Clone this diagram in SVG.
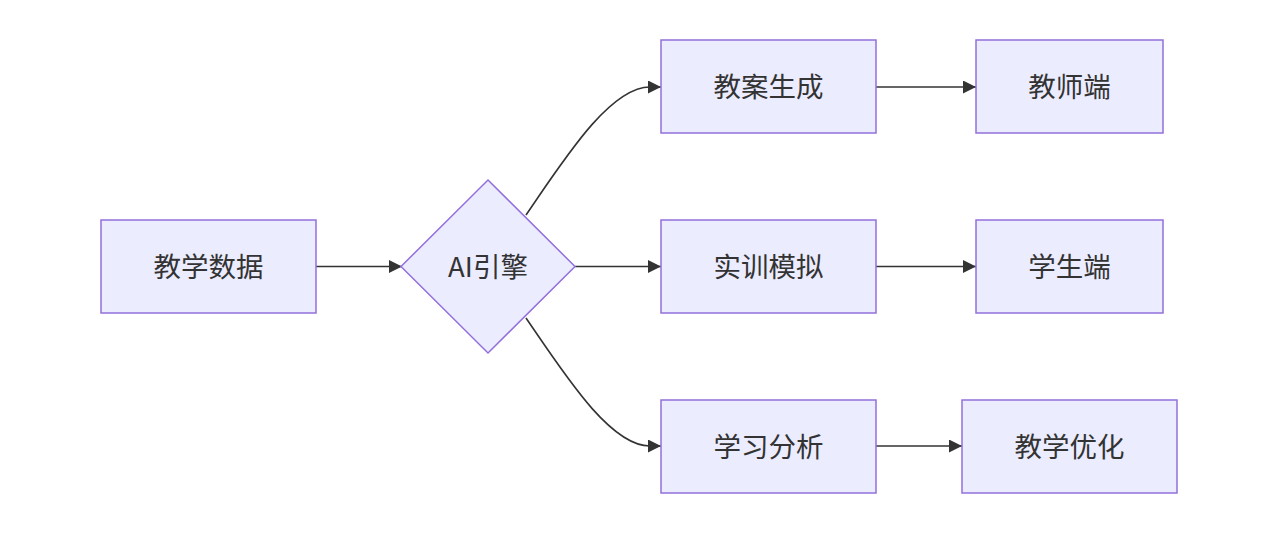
<svg xmlns="http://www.w3.org/2000/svg" width="1280" height="545" viewBox="0 0 1280 545">
<style>
.n{fill:#ECECFF;stroke:#9370DB;stroke-width:1.5}
.t{font-family:"Noto Sans CJK SC","Noto Sans",sans-serif;font-size:27.5px;fill:#333;text-anchor:middle;dominant-baseline:central}
.e{fill:none;stroke:#333;stroke-width:1.6}
</style>
<defs>
<marker id="ar" viewBox="0 0 10 10" refX="10" refY="5" markerWidth="13" markerHeight="13" markerUnits="userSpaceOnUse" orient="auto">
<path d="M0,0 L10,5 L0,10 z" fill="#333"/>
</marker>
</defs>
<rect width="1280" height="545" fill="#fff"/>
<g id="edges">
<path class="e" d="M316,266.5 L402,266.5" marker-end="url(#ar)"/>
<path class="e" d="M526,215 C565,158 610,87 650,87 L661,87" marker-end="url(#ar)"/>
<path class="e" d="M575,266.5 L661,266.5" marker-end="url(#ar)"/>
<path class="e" d="M526,318 C565,375 610,446 650,446 L661,446" marker-end="url(#ar)"/>
<path class="e" d="M876,87 L976,87" marker-end="url(#ar)"/>
<path class="e" d="M876,266.5 L976,266.5" marker-end="url(#ar)"/>
<path class="e" d="M876,446 L962,446" marker-end="url(#ar)"/>
</g>
<g id="n1"><rect class="n" x="101" y="220" width="215" height="93"/><text class="t" x="208.5" y="264.5">教学数据</text></g>
<g id="n2"><polygon class="n" points="488,180 575,266.5 488,353 401,266.5"/><text class="t" x="488" y="264.5">AI引擎</text></g>
<g id="n3"><rect class="n" x="661" y="40" width="215" height="93"/><text class="t" x="768.5" y="84.5">教案生成</text></g>
<g id="n4"><rect class="n" x="661" y="220" width="215" height="93"/><text class="t" x="768.5" y="264.5">实训模拟</text></g>
<g id="n5"><rect class="n" x="661" y="400" width="215" height="93"/><text class="t" x="768.5" y="444.5">学习分析</text></g>
<g id="n6"><rect class="n" x="976" y="40" width="187" height="93"/><text class="t" x="1069.5" y="84.5">教师端</text></g>
<g id="n7"><rect class="n" x="976" y="220" width="187" height="93"/><text class="t" x="1069.5" y="264.5">学生端</text></g>
<g id="n8"><rect class="n" x="962" y="400" width="215" height="93"/><text class="t" x="1069.5" y="444.5">教学优化</text></g>
</svg>
